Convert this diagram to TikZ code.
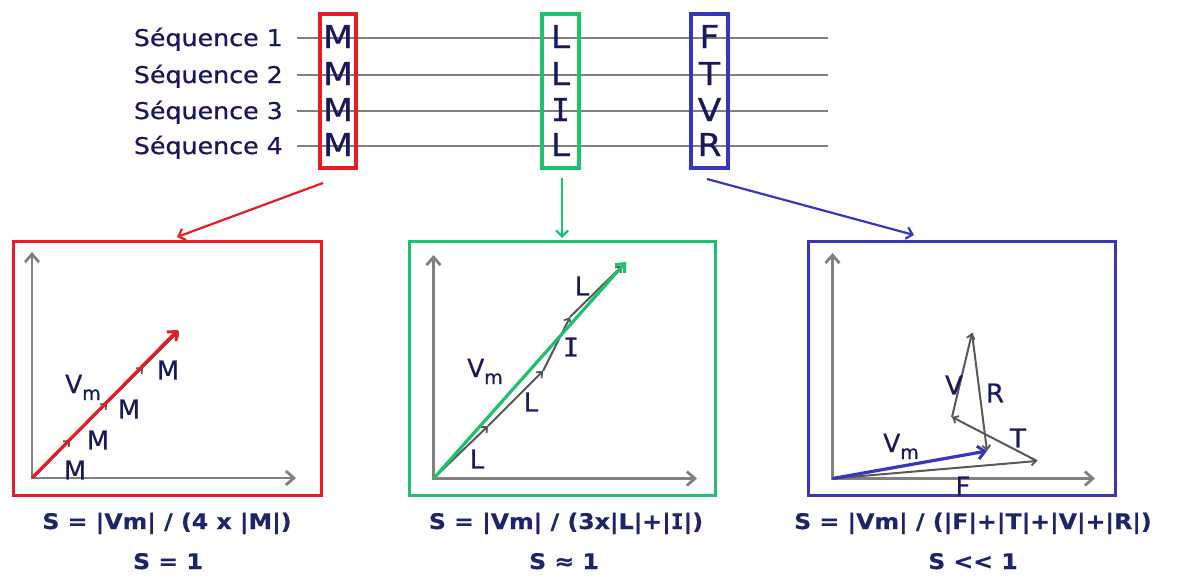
\documentclass[tikz,border=0pt]{standalone}
\usepackage{fontspec}
\setmainfont{DejaVu Sans}
\newfontfamily\widefont[FakeStretch=1.1,FakeBold=0.6]{DejaVu Sans}
\newfontfamily\formfont[FakeStretch=1.1,FakeBold=0.5]{DejaVu Sans Bold}
\newfontfamily\letfont[FakeStretch=1.1,FakeBold=0.5]{DejaVu Sans}
\newfontfamily\lblfont[FakeBold=0.6]{DejaVu Sans}
\newfontfamily\monoIfont[FakeBold=0.5]{DejaVu Sans Mono}
\newfontfamily\monoIbold[FakeBold=0.5]{DejaVu Sans Mono Bold}
\usetikzlibrary{arrows.meta,calc}
\definecolor{navy}{RGB}{24,24,92}
\definecolor{fnavy}{RGB}{30,36,108}
\definecolor{cred}{RGB}{232,28,36}
\definecolor{cgreen}{RGB}{30,194,110}
\definecolor{cblue}{RGB}{55,55,190}
\definecolor{agray}{RGB}{128,128,128}
\definecolor{vgray}{RGB}{88,88,88}
\newcommand{\sI}{{\monoIfont I}}
\newcommand{\bI}{{\monoIbold I}}
\tikzset{
  seqlbl/.style={anchor=base east,inner sep=0pt,text=navy,font=\widefont\fontsize{23}{23}\selectfont},
  seqline/.style={draw=agray,line width=2.5pt},
  bigletter/.style={anchor=base,inner sep=0pt,text=navy,font=\letfont\fontsize{31.5}{31.5}\selectfont},
  topbox/.style={draw=#1,line width=4pt,minimum width=36.5pt,minimum height=154pt,inner sep=0pt},
  panel/.style={draw=#1,line width=3pt,minimum height=254pt,inner sep=0pt},
  conn/.style={draw=#1,line width=2.2pt,-{Straight Barb[length=6pt,width=12pt,line width=2.2pt]}},
  axis/.style={draw=agray,line width=2.8pt,-{Straight Barb[length=8pt,width=14pt,line width=2.8pt]}},
  vm/.style={draw=#1,line width=3.2pt,-{Straight Barb[length=7pt,width=13pt,line width=3pt]}},
  vec/.style={draw=vgray,line width=2pt,-{Straight Barb[length=4.5pt,width=8pt,line width=1.8pt]}},
  lbl/.style={inner sep=0pt,text=navy,font=\lblfont\fontsize{26}{26}\selectfont},
  vmlbl/.style={anchor=base west,inner sep=0pt,text=navy,font=\lblfont\fontsize{25}{25}\selectfont},
  formula/.style={anchor=base,inner sep=0pt,text=fnavy,font=\formfont\fontsize{21.5}{21.5}\selectfont},
}
\newcommand{\Vm}{V\raisebox{-7pt}{\fontsize{19}{19}\selectfont m}}
\begin{document}
\begin{tikzpicture}[x=1pt,y=-1pt]
\useasboundingbox (0,0) rectangle (1180,576);

% sequence lines
\foreach \i/\y in {1/38,2/75,3/111,4/146}{
  \node[seqlbl] (s\i) at (283,\y+8) {Séquence \i};
  \coordinate (ls\i) at (297,\y);
  \coordinate (le\i) at (828,\y);
  \draw[seqline] (ls\i) -- (le\i);
}
% top boxes
\node[topbox=cred] (rbox) at (338,91) {};
\node[topbox=cgreen] (gbox) at (560.5,91) {};
\node[topbox=cblue] (bbox) at (709.5,91) {};
% letters
\foreach \i/\y/\a/\b/\c in {1/48/M/L/F,2/85/M/L/T,3/121/M/\sI/V,4/156/M/L/R}{
  \node[bigletter] (m\i) at (338,\y) {\a};
  \node[bigletter] (l\i) at (560.5,\y) {\b};
  \node[bigletter] (f\i) at (709.5,\y) {\c};
}

% panels
\node[panel=cred,minimum width=308pt] (rpanel) at (167.5,368.5) {};
\node[panel=cgreen,minimum width=306pt] (gpanel) at (562.5,368.5) {};
\node[panel=cblue,minimum width=307pt] (bpanel) at (962,368.5) {};

% connectors
\coordinate (ra) at (323,183);
\coordinate (rb) at (177,237);
\draw[conn=cred] (ra) -- (rb);
\coordinate (ga) at (562,178);
\coordinate (gb) at (562,238);
\draw[conn=cgreen] (ga) -- (gb);
\coordinate (ba) at (707,179);
\coordinate (bb) at (914,235);
\draw[conn=cblue] (ba) -- (bb);

% ---- red panel
\coordinate (ro) at (32,478);
\coordinate (ry) at (32,252);
\coordinate (rx) at (296,478);
\draw[axis] ($(ro)+(0,1)$) -- (ry);
\draw[axis] ($(ro)+(-1,0)$) -- (rx);
\coordinate (rm0) at (34,477);
\coordinate (rm1) at (70,440);
\coordinate (rm2) at (107,403);
\coordinate (rm3) at (143,367);
\coordinate (rm4) at (179,331);
\draw[vec] (rm0) -- (rm1);
\draw[vec] (rm1) -- (rm2);
\draw[vec] (rm2) -- (rm3);
\draw[vec] (rm3) -- (rm4);
\coordinate (rv) at (178,330);
\draw[vm=cred] (ro) -- (rv);
\node[lbl] (rl1) at (75,470) {M};
\node[lbl] (rl2) at (98,440) {M};
\node[lbl] (rl3) at (129,409) {M};
\node[lbl] (rl4) at (168,370) {M};
\node[vmlbl] (rvm) at (65,393) {\Vm};

% ---- green panel
\coordinate (go) at (433.5,478.5);
\coordinate (gy) at (433.5,255);
\coordinate (gx) at (697,478.5);
\draw[axis] ($(go)+(0,1)$) -- (gy);
\draw[axis] ($(go)+(-1,0)$) -- (gx);
\coordinate (gl0) at (434,478);
\coordinate (gl1) at (488,426);
\coordinate (gl2) at (543,371);
\coordinate (gl3) at (570,317);
\coordinate (gl4) at (622,266);
\draw[vec] (gl0) -- (gl1);
\draw[vec] (gl1) -- (gl2);
\draw[vec] (gl2) -- (gl3);
\draw[vec] (gl3) -- (gl4);
\coordinate (gv) at (626,262);
\draw[vm=cgreen] (go) -- (gv);
\node[lbl] (gll1) at (477,459) {L};
\node[lbl] (gll2) at (531,402) {L};
\node[lbl] (gll3) at (571,347) {\sI};
\node[lbl] (gll4) at (582,286) {L};
\node[vmlbl] (gvm) at (467,377) {\Vm};

% ---- blue panel
\coordinate (bo) at (832.5,478.5);
\coordinate (by) at (832.5,253);
\coordinate (bx) at (1095,478.5);
\draw[axis] ($(bo)+(0,1)$) -- (by);
\draw[axis] ($(bo)+(-1,0)$) -- (bx);
\coordinate (bF) at (1037,461);
\coordinate (bT) at (952,417);
\coordinate (bV) at (972,333);
\coordinate (bR) at (987,451);
\draw[vec] (bo) -- (bF);
\draw[vec] (bF) -- (bT);
\draw[vec] (bT) -- (bV);
\draw[vec] (bV) -- (bR);
\draw[vm=cblue] (bo) -- (bR);
\node[lbl] (blV) at (954,385) {V};
\node[lbl] (blR) at (995,393) {R};
\node[lbl] (blT) at (1018,438) {T};
\node[lbl] (blF) at (963,486) {F};
\node[vmlbl] (bvm) at (883,452) {\Vm};

% formulas
\node[formula] (fr1) at (167,529) {S = |Vm| / (4 x |M|)};
\node[formula] (fg1) at (566,529) {S = |Vm| / (3x|L|+|\bI|)};
\node[formula] (fb1) at (973,529) {S = |Vm| / (|F|+|T|+|V|+|R|)};
\node[formula] (fr2) at (168,569) {S = 1};
\node[formula] (fg2) at (564,569) {S ≈ 1};
\node[formula] (fb2) at (973,569) {S << 1};
\end{tikzpicture}
\end{document}
